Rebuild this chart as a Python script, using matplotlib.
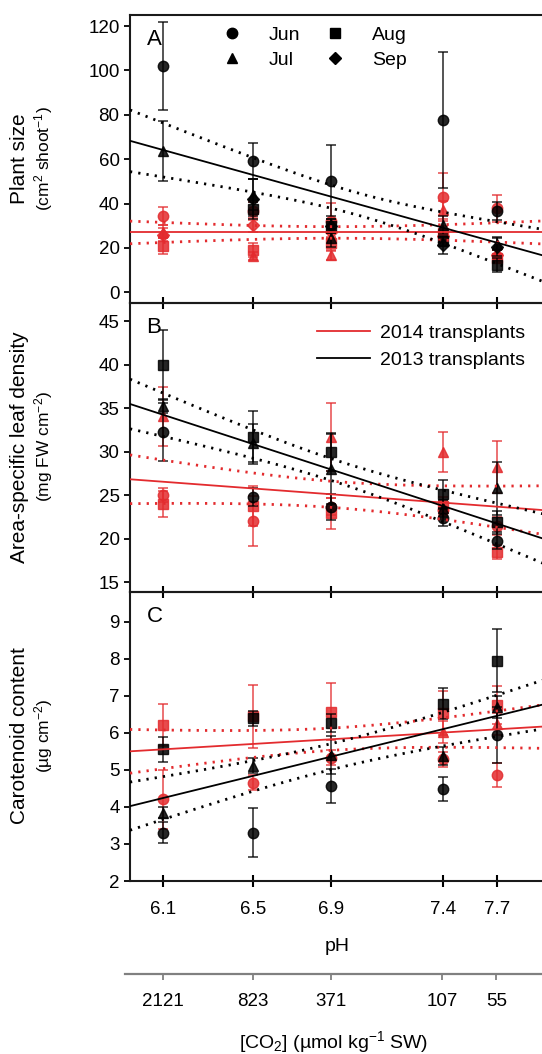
import numpy as np
import matplotlib.pyplot as plt
from matplotlib.lines import Line2D

plt.rcParams['font.family'] = ['Liberation Sans', 'DejaVu Sans']
plt.rcParams['mathtext.fontset'] = 'custom'
plt.rcParams['mathtext.rm'] = 'Liberation Sans'
plt.rcParams['mathtext.it'] = 'Liberation Sans:italic'

# --- x axis: pH treatments and matching CO2 ---
ph_pos = [6.10, 6.53, 6.905, 7.44, 7.70]
ph_labels = ['6.1', '6.5', '6.9', '7.4', '7.7']
co2_labels = ['2121', '823', '371', '107', '55']
months = ['Jun', 'Jul', 'Aug', 'Sep']
month_markers = {'Jun': 'o', 'Jul': '^', 'Aug': 's', 'Sep': 'D'}
nan = np.nan

# --- A: plant size (cm2 shoot-1), means and errors per month ---
size_13 = {'Jun': [102.0, 59.3, 50.2, 77.6, 36.5],
           'Jul': [63.8, 44.0, 24.6, 30.3, 22.0],
           'Aug': [nan, 37.5, 29.9, 23.0, 12.3],
           'Sep': [nan, 41.9, 29.9, 21.3, 20.6]}
size_13_err = {'Jun': [19.8, 8.0, 16.0, 30.5, 4.0],
               'Jul': [13.5, 7.0, 4.0, 4.0, 3.0],
               'Aug': [nan, 3.0, 3.0, 2.0, 3.3],
               'Sep': [nan, 9.0, 3.0, 4.0, 4.0]}
size_14 = {'Jun': [34.5, 36.5, 32.3, 43.1, 37.8],
           'Jul': [27.3, 16.4, 16.8, 37.1, 17.3],
           'Aug': [20.9, 19.1, 22.1, 26.7, 15.5],
           'Sep': [26.0, 30.3, 27.0, 25.5, 17.0]}
size_14_err = {'Jun': [4.1, 4.0, 8.0, 10.8, 6.0],
               'Jul': [3.0, 2.0, 2.0, 4.0, 2.0],
               'Aug': [3.8, 3.0, 3.0, 3.0, 2.0],
               'Sep': [3.0, 3.0, 3.0, 3.0, 2.0]}

# --- B: area-specific leaf density (mg FW cm-2) ---
dens_13 = {'Jun': [32.3, 24.8, 23.65, 22.45, 19.8],
           'Jul': [35.25, 31.0, 28.0, 23.5, 25.8],
           'Aug': [40.0, 31.65, 30.0, 25.2, 21.9],
           'Sep': [nan, nan, nan, nan, nan]}
dens_13_err = {'Jun': [3.3, 1.0, 1.5, 1.0, 1.0],
               'Jul': [0.8, 2.2, 4.0, 1.0, 3.0],
               'Aug': [4.0, 3.1, 2.2, 1.6, 1.3],
               'Sep': [nan, nan, nan, nan, nan]}
dens_14 = {'Jun': [25.05, 22.07, 23.7, 23.3, 21.5],
           'Jul': [34.1, nan, 31.7, 30.0, 28.3],
           'Aug': [24.0, 23.8, 22.95, 23.8, 18.5],
           'Sep': [nan, nan, nan, nan, nan]}
dens_14_err = {'Jun': [0.8, 2.9, 1.0, 1.0, 1.0],
               'Jul': [3.4, nan, 3.9, 2.3, 3.0],
               'Aug': [1.5, 2.3, 1.8, 1.0, 0.8],
               'Sep': [nan, nan, nan, nan, nan]}

# --- C: carotenoid content (ug cm-2) ---
caro_13 = {'Jun': [3.30, 3.30, 4.56, 4.48, 5.94],
           'Jul': [3.84, 5.11, 5.40, 5.38, 6.70],
           'Aug': [5.56, 6.39, 6.27, 6.78, 7.95],
           'Sep': [nan, nan, nan, nan, nan]}
caro_13_err = {'Jun': [0.28, 0.66, 0.46, 0.33, 0.76],
               'Jul': [0.15, 0.2, 0.5, 0.25, 0.3],
               'Aug': [0.34, 0.2, 0.25, 0.42, 0.85],
               'Sep': [nan, nan, nan, nan, nan]}
caro_14 = {'Jun': [4.20, 4.65, 5.33, 5.28, 4.86],
           'Jul': [nan, nan, nan, 6.03, 6.23],
           'Aug': [6.21, 6.44, 6.57, 6.54, 6.75],
           'Sep': [nan, nan, nan, nan, nan]}
caro_14_err = {'Jun': [0.8, 0.2, 0.2, 0.2, 0.33],
               'Jul': [nan, nan, nan, 0.3, 0.3],
               'Aug': [0.57, 0.85, 0.77, 0.6, 0.5],
               'Sep': [nan, nan, nan, nan, nan]}

# regression fits: value at x-limits, CI half-width at both ends and the minimum
fit_x = [5.94, 7.925]
size_fit_13 = [68.3, 16.5, 13.9, 11.8, 5.0]
size_fit_14 = [27.0, 27.0, 5.1, 5.2, 2.6]
dens_fit_13 = [35.5, 20.0, 2.85, 2.85, 1.25]
dens_fit_14 = [26.85, 23.3, 2.8, 2.8, 1.5]
caro_fit_13 = [4.02, 6.77, 0.65, 0.66, 0.35]
caro_fit_14 = [5.50, 6.17, 0.59, 0.59, 0.30]

RED = '#e32b2e'
BLACK = '#000000'


def fit_band(fit):
    yl, yr, wl, wr, w0 = fit
    xl, xr = fit_x
    x = np.linspace(xl, xr, 200)
    y = yl + (yr - yl) * (x - xl) / (xr - xl)
    # hyperbolic confidence band: w^2 = w0^2 + k^2 (x - xm)^2
    a = np.sqrt(wl**2 - w0**2)
    b = np.sqrt(wr**2 - w0**2)
    d1 = (xr - xl) * a / (a + b)
    xm = xl + d1
    k = a / d1
    w = np.sqrt(w0**2 + k**2 * (x - xm)**2)
    return x, y, y - w, y + w


def draw_panel(ax, d13, e13, d14, e14, f13, f14):
    for data, err, col, z in [(d14, e14, RED, 2), (d13, e13, BLACK, 3)]:
        for m in months:
            ms = 7.5 if m in ('Jun', 'Jul') else 6.5
            ax.errorbar(ph_pos, data[m], yerr=err[m], fmt=month_markers[m],
                        color=col, ms=ms, capsize=3.5, elinewidth=1.1,
                        capthick=1.1, alpha=0.85, zorder=z)
    for fit, col in [(f14, RED), (f13, BLACK)]:
        x, y, lo, hi = fit_band(fit)
        ax.plot(x, y, color=col, lw=1.3, zorder=4)
        ax.plot(x, lo, color=col, lw=2.0, ls=(0, (0.8, 2.2)), zorder=4)
        ax.plot(x, hi, color=col, lw=2.0, ls=(0, (0.8, 2.2)), zorder=4)


W, H = 542, 1054
fig = plt.figure(figsize=(W / 100, H / 100), dpi=100)

left = 130 / W
width = 414 / W
panels = [(15, 303), (303, 592), (592, 881)]
axes = []
for top, bot in panels:
    ax = fig.add_axes([left, 1 - bot / H, width, (bot - top) / H])
    axes.append(ax)

axA, axB, axC = axes
draw_panel(axA, size_13, size_13_err, size_14, size_14_err, size_fit_13, size_fit_14)
draw_panel(axB, dens_13, dens_13_err, dens_14, dens_14_err, dens_fit_13, dens_fit_14)
draw_panel(axC, caro_13, caro_13_err, caro_14, caro_14_err, caro_fit_13, caro_fit_14)

axA.set_ylim(-4.8, 125)
axA.set_yticks(np.arange(0, 121, 20))
axB.set_ylim(13.9, 47.1)
axB.set_yticks(np.arange(15, 46, 5))
axC.set_ylim(2, 9.8)
axC.set_yticks(np.arange(2, 10, 1))

for ax, letter in zip(axes, 'ABC'):
    ax.set_xlim(fit_x)
    ax.set_xticks(ph_pos)
    ax.set_xticklabels(ph_labels if ax is axC else [])
    for s in ax.spines.values():
        s.set_linewidth(1.5)
        s.set_color('#1a1a1a')
    ax.spines['right'].set_visible(False)
    ax.tick_params(axis='x', direction='inout', length=9, width=1.5,
                   labelsize=13.5, pad=10)
    ax.tick_params(axis='y', direction='out', length=4.5, width=1.3,
                   labelsize=13.5, pad=3)
    ax.text(0.04, 0.95, letter, transform=ax.transAxes, fontsize=16,
            ha='left', va='top')
    ax.patch.set_alpha(0)

axC.set_xlabel('pH', fontsize=14, labelpad=14)

# month legend (panel A)
month_handles = [Line2D([], [], ls='none', marker=month_markers[m], color='black',
                        ms=7.5 if m in ('Jun', 'Jul') else 6.5) for m in months]
axA.legend(month_handles, months, ncol=2, loc='upper left',
           bbox_to_anchor=(0.222, 0.962), frameon=False, fontsize=14,
           handlelength=1.0, handletextpad=1.4, columnspacing=1.3,
           labelspacing=0.38, borderpad=0, borderaxespad=0)

# transplant year legend (panel B)
year_handles = [Line2D([], [], color=RED, lw=1.3), Line2D([], [], color=BLACK, lw=1.3)]
axB.legend(year_handles, ['2014 transplants', '2013 transplants'], loc='upper left',
           bbox_to_anchor=(0.452, 0.925), frameon=False, fontsize=14,
           handlelength=2.7, handletextpad=0.55, labelspacing=0.45,
           borderpad=0, borderaxespad=0)

# y-axis titles, two lines each
ylab = [('Plant size', '(cm$^2$ shoot$^{-1}$)', 159),
        ('Area-specific leaf density', '(mg FW cm$^{-2}$)', 447),
        ('Carotenoid content', '(µg cm$^{-2}$)', 736)]
for t1, t2, yc in ylab:
    fig.text(20 / W, 1 - yc / H, t1, rotation=90, ha='center', va='center', fontsize=15)
    fig.text(44 / W, 1 - yc / H, t2, rotation=90, ha='center', va='center', fontsize=12.5)

# CO2 scale underneath
x0 = 125 / W
ax2 = fig.add_axes([x0, 1 - 974 / H, 1.002 - x0, 1e-4])
ax2.set_xlim(fit_x[0] - 5 / 207.5, fit_x[1])
ax2.set_xticks(ph_pos)
ax2.set_xticklabels(co2_labels)
ax2.set_yticks([])
for name, s in ax2.spines.items():
    s.set_visible(name == 'bottom')
ax2.spines['bottom'].set_color('#808080')
ax2.spines['bottom'].set_linewidth(1.6)
ax2.tick_params(axis='x', direction='out', length=4.5, width=1.3, color='#808080',
                labelsize=13.5, pad=9)
ax2.patch.set_alpha(0)
ax2.set_xlabel('[CO$_2$] (µmol kg$^{-1}$ SW)', fontsize=14, labelpad=14)

fig.savefig('out.png', dpi=100)
